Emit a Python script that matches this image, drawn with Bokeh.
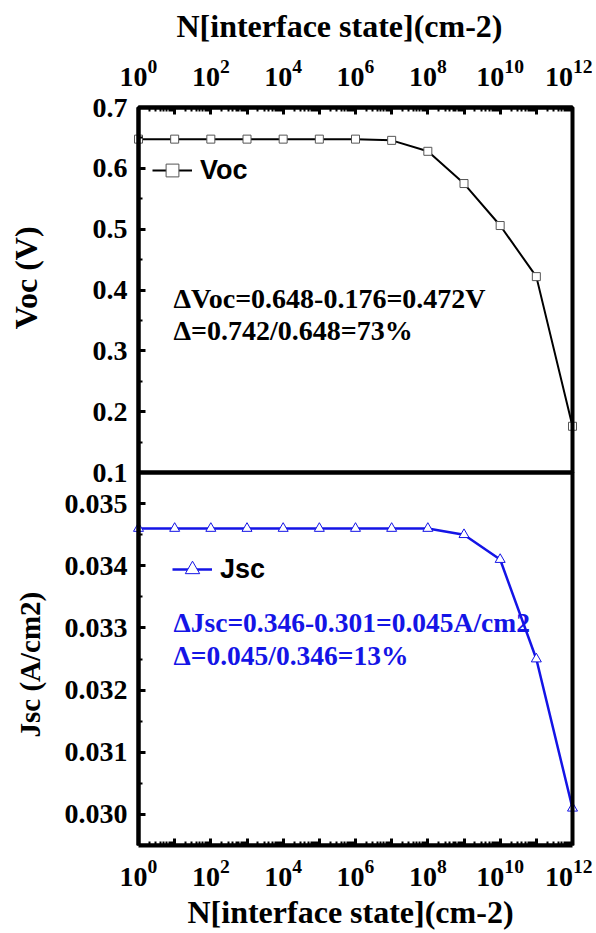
import math
from bokeh.plotting import figure
from bokeh.models import (Range1d, LinearAxis, LogAxis, FixedTicker, PrintfTickFormatter,
                          LogTickFormatter, BoxAnnotation, Label, Legend, LegendItem, Title)
from bokeh.embed import file_html
from bokeh.resources import INLINE

# ---------------- data ----------------
n_interface = [1e0, 1e1, 1e2, 1e3, 1e4, 1e5, 1e6, 1e7, 1e8, 1e9, 1e10, 1e11, 1e12]
voc = [0.648, 0.648, 0.648, 0.648, 0.648, 0.648, 0.648, 0.646, 0.628, 0.575, 0.506, 0.422, 0.176]
jsc = [0.0346, 0.0346, 0.0346, 0.0346, 0.0346, 0.0346, 0.0346, 0.0346, 0.0346, 0.0345, 0.0341, 0.0325, 0.0301]

x_ticks = [1e0, 1e1, 1e2, 1e3, 1e4, 1e5, 1e6, 1e7, 1e8, 1e9, 1e10, 1e11, 1e12]
x_unlabeled = [1e1, 1e3, 1e5, 1e7, 1e9, 1e11]          # decades drawn without a label
voc_ticks = [0.1, 0.2, 0.3, 0.4, 0.5, 0.6, 0.7]
voc_minor = [0.15, 0.25, 0.35, 0.45, 0.55, 0.65]
jsc_ticks = [0.030, 0.031, 0.032, 0.033, 0.034, 0.035]
jsc_minor = [0.0305, 0.0315, 0.0325, 0.0335, 0.0345]

x_title = "N[interface state](cm-2)"
voc_title = "Voc (V)"
jsc_title = "Jsc (A/cm2)"
voc_note = ["\u0394Voc=0.648-0.176=0.472V", "\u0394=0.742/0.648=73%"]
jsc_note = ["\u0394Jsc=0.346-0.301=0.045A/cm2", "\u0394=0.045/0.346=13%"]

# ---------------- layout (pixels) ----------------
TOP_PAD = 107                    # room above the upper panel (top axis labels + title)
TOP_H, BOT_H = 365, 373          # heights of the two stacked panels
PANEL_W = 434                    # width of 10^0 .. 10^12
LEFT_PAD = 138                   # room left of 10^0 (y labels + titles)
RIGHT_PAD = 20                   # room right of 10^12 (last tick label)
decade_px = PANEL_W / 12.0
x_start = 10 ** (-LEFT_PAD / decade_px)
x_end = 10 ** (12 + RIGHT_PAD / decade_px)

voc_lo, voc_hi = 0.1, 0.7
jsc_lo, jsc_hi = 0.0295, 0.0355
voc_px = (voc_hi - voc_lo) / TOP_H
jsc_px = (jsc_hi - jsc_lo) / BOT_H
voc_start = voc_lo - BOT_H * voc_px
voc_end = voc_hi + TOP_PAD * voc_px
jsc_end = jsc_hi + (TOP_H + TOP_PAD) * jsc_px

BLUE = "#1414e6"
SERIF = "Liberation Serif"
SANS = "Liberation Sans"

minor_x = [k * 10.0 ** e for e in range(0, 12) for k in range(2, 10)]

p = figure(frame_width=LEFT_PAD + PANEL_W + RIGHT_PAD, frame_height=TOP_PAD + TOP_H + BOT_H,
           x_axis_type="log", x_range=Range1d(x_start, x_end),
           y_range=Range1d(voc_start, voc_end), y_axis_location=None,
           output_backend="svg", toolbar_location=None,
           min_border_left=0, min_border_right=0, min_border_top=0, min_border_bottom=80)
p.extra_y_ranges = {"jsc": Range1d(jsc_lo, jsc_end)}
p.xgrid.visible = False
p.ygrid.visible = False
p.outline_line_color = None
p.background_fill_color = "white"
p.border_fill_color = "white"

blank = {t: "" for t in x_unlabeled}


def style_axis(ax, label_size="28px"):
    ax.axis_line_width = 4
    ax.axis_line_color = "black"
    ax.major_tick_in = 7
    ax.major_tick_out = 0
    ax.minor_tick_in = 4
    ax.minor_tick_out = 0
    ax.major_tick_line_width = 3
    ax.minor_tick_line_width = 2
    ax.major_label_text_font = SERIF
    ax.major_label_text_font_style = "bold"
    ax.major_label_text_font_size = label_size
    ax.major_label_text_color = "black"


# bottom x axis
bx = p.xaxis[0]
bx.ticker = FixedTicker(ticks=x_ticks, minor_ticks=minor_x)
bx.formatter = LogTickFormatter()
bx.major_label_overrides = blank
bx.bounds = (x_ticks[0], x_ticks[-1])
style_axis(bx)
bx.major_label_standoff = 14
p.add_layout(Title(text=x_title, align="left", offset=187, text_font=SERIF,
                   text_font_style="bold", text_font_size="32px", text_color="black",
                   standoff=6), "below")

# top x axis, drawn on top of the upper panel
tx = LogAxis(ticker=FixedTicker(ticks=x_ticks, minor_ticks=minor_x),
             formatter=LogTickFormatter(), major_label_overrides=blank,
             bounds=(x_ticks[0], x_ticks[-1]), fixed_location=voc_hi)
style_axis(tx)
tx.major_label_standoff = 22
p.add_layout(tx, "above")
p.add_layout(Label(x=339, y=voc_hi + 82 * voc_px, x_units="screen", text=x_title,
                   text_align="center", text_baseline="middle", text_font=SERIF,
                   text_font_style="bold", text_font_size="32px", text_color="black"))

# Voc axis
vy = LinearAxis(fixed_location=1, bounds=(voc_lo, voc_hi),
                ticker=FixedTicker(ticks=voc_ticks, minor_ticks=voc_minor),
                formatter=PrintfTickFormatter(format="%.1f"))
style_axis(vy)
vy.major_label_standoff = 11
p.add_layout(vy, "left")

# Jsc axis (same place, lower panel)
jy = LinearAxis(y_range_name="jsc", fixed_location=1, bounds=(jsc_lo, jsc_hi),
                ticker=FixedTicker(ticks=jsc_ticks, minor_ticks=jsc_minor),
                formatter=PrintfTickFormatter(format="%.3f"))
style_axis(jy)
jy.major_label_standoff = 11
p.add_layout(jy, "left")

# panel frames
p.add_layout(BoxAnnotation(left=x_ticks[0], right=x_ticks[-1], bottom=voc_lo, top=voc_hi,
                           fill_alpha=0, line_color="black", line_alpha=1, line_width=4))
p.add_layout(BoxAnnotation(left=x_ticks[0], right=x_ticks[-1], bottom=jsc_lo, top=jsc_hi,
                           y_range_name="jsc", fill_alpha=0, line_color="black",
                           line_alpha=1, line_width=4))

# data
vl = p.line(n_interface, voc, line_color="black", line_width=2)
vs = p.scatter(n_interface, voc, marker="square", size=8, fill_color="white",
               line_color="#555555", line_width=1)
jl = p.line(n_interface, jsc, line_color=BLUE, line_width=2.5, y_range_name="jsc")
js = p.scatter(n_interface, jsc, marker="triangle", size=10, fill_color="white",
               line_color=BLUE, line_width=1, y_range_name="jsc")


def add_legend(label, rends, loc, gh):
    leg = Legend(items=[LegendItem(label=label, renderers=rends)], location=loc,
                 glyph_width=40, glyph_height=gh, label_standoff=8, padding=0, margin=0,
                 spacing=0, border_line_alpha=0, background_fill_alpha=0,
                 label_text_font=SANS, label_text_font_style="bold",
                 label_text_font_size="27px", label_text_color="black")
    p.add_layout(leg)


add_legend("Voc", [vl, vs], (152, 659), 32)
add_legend("Jsc", [jl, js], (172, 258), 36)

# y titles
p.add_layout(Label(x=25, y=0.42, x_units="screen", text=voc_title, angle=math.pi / 2,
                   text_align="center", text_baseline="middle", text_font=SERIF,
                   text_font_style="bold", text_font_size="32px", text_color="black"))
p.add_layout(Label(x=29, y=0.03241, x_units="screen", y_range_name="jsc", text=jsc_title,
                   angle=math.pi / 2, text_align="center", text_baseline="middle",
                   text_font=SERIF, text_font_style="bold", text_font_size="29px",
                   text_color="black"))

# notes
for txt, yv in zip(voc_note, [0.386, 0.333]):
    p.add_layout(Label(x=173, y=yv, x_units="screen", text=txt, text_align="left",
                       text_baseline="middle", text_font=SERIF, text_font_style="bold",
                       text_font_size="28px", text_color="black"))
for txt, yv in zip(jsc_note, [0.03309, 0.03256]):
    p.add_layout(Label(x=173, y=yv, x_units="screen", y_range_name="jsc", text=txt,
                       text_align="left", text_baseline="middle", text_font=SERIF,
                       text_font_style="bold", text_font_size="27.5px", text_color=BLUE))

open("out.html", "w").write(file_html(p, INLINE))
